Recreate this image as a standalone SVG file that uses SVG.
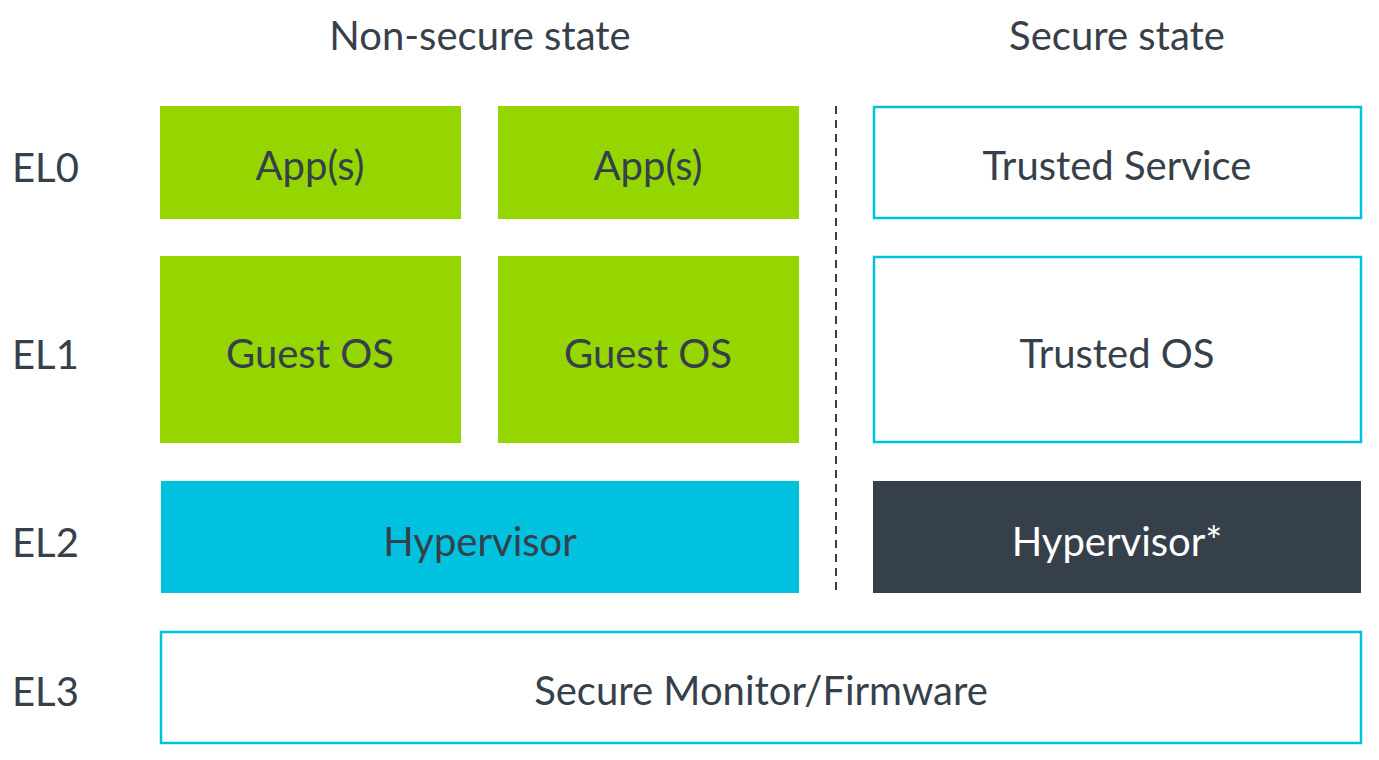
<svg xmlns="http://www.w3.org/2000/svg" width="1379" height="760" viewBox="0 0 1379 760">
<style>
text{font-family:Lato,"Open Sans",sans-serif;font-size:40px;fill:#36404a}
.c{text-anchor:middle}
.g{fill:#95d600}
.o{fill:#fff;stroke:#00c1de;stroke-width:2.5}
</style>
<rect width="1379" height="760" fill="#fff"/>
<text class="c" x="480" y="50">Non-secure state</text>
<text class="c" x="1117" y="50">Secure state</text>
<text x="12" y="182">EL0</text>
<text x="12" y="369">EL1</text>
<text x="12" y="557">EL2</text>
<text x="12" y="706">EL3</text>
<g id="connectors"><line x1="836" y1="106" x2="836" y2="593" stroke="#36404a" stroke-width="2" stroke-dasharray="8,6"/></g>
<g id="app1"><rect class="g" x="160" y="106" width="301" height="113"/><text class="c" x="310" y="180">App(s)</text></g>
<g id="app2"><rect class="g" x="498" y="106" width="301" height="113"/><text class="c" x="648" y="180">App(s)</text></g>
<g id="ts"><rect class="o" x="874" y="107" width="487" height="111"/><text class="c" x="1117" y="180">Trusted Service</text></g>
<g id="os1"><rect class="g" x="160" y="256" width="301" height="187"/><text class="c" x="310" y="368">Guest OS</text></g>
<g id="os2"><rect class="g" x="498" y="256" width="301" height="187"/><text class="c" x="648" y="368">Guest OS</text></g>
<g id="tos"><rect class="o" x="874" y="257" width="487" height="185"/><text class="c" x="1117" y="368">Trusted OS</text></g>
<g id="hyp"><rect fill="#00c1de" x="161" y="481" width="638" height="112"/><text class="c" x="480" y="556">Hypervisor</text></g>
<g id="shyp"><rect fill="#36404a" x="873" y="481" width="488" height="112"/><text class="c" x="1117" y="556" style="fill:#fff">Hypervisor*</text></g>
<g id="el3"><rect class="o" x="161" y="632" width="1200" height="111"/><text class="c" x="761" y="705">Secure Monitor/Firmware</text></g>
</svg>
